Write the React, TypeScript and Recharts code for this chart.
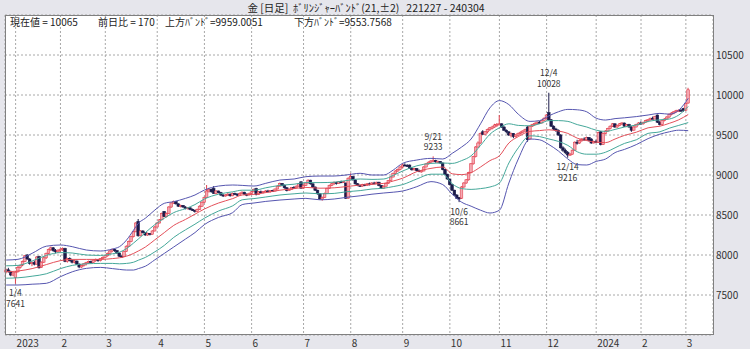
import React from "react";
import { ComposedChart, Bar, Line, XAxis, YAxis, CartesianGrid } from "recharts";

const FONT = '"Noto Sans CJK JP", "Noto Sans", sans-serif';

// Daily OHLC, 2022-12-27 .. 2024-03-04 (index = trading day)
const opens = [
7790,7815,7795,7750,7720,7790,7845,7875,7920,8000,7950,7895,7905,7885,7980,7845,7910,7965,8020,8070,
8090,8055,8040,8060,8070,8080,7920,7955,7930,7910,7925,7885,7850,7870,7890,7905,7920,7905,7935,7945,
7930,7955,7970,7990,8020,8050,8070,8055,8025,7985,7980,8045,8110,8170,8230,8290,8420,8240,8300,8280,
8250,8270,8260,8300,8350,8400,8440,8545,8480,8520,8600,8650,8670,8640,8610,8620,8600,8580,8590,8570,
8560,8545,8570,8610,8660,8720,8800,8820,8830,8770,8800,8780,8750,8740,8750,8760,8740,8770,8760,8750,
8770,8785,8760,8750,8770,8790,8830,8755,8790,8785,8795,8800,8795,8805,8800,8825,8860,8895,8870,8840,
8805,8820,8845,8840,8860,8915,8835,8870,8900,8935,8890,8850,8810,8765,8700,8720,8770,8830,8870,8890,
8905,8895,8915,8910,8900,8710,8960,8980,8940,8890,8870,8860,8880,8870,8890,8880,8900,8895,8910,8870,
8835,8860,8895,8930,8975,9020,9050,9070,9100,9125,9120,9125,9085,9065,9080,9055,9045,9050,9100,9140,
9160,9175,9180,9165,9170,9150,9070,9010,8950,8880,8810,8750,8720,8710,8850,8900,8940,9030,9140,9230,
9350,9400,9540,9510,9540,9570,9580,9600,9625,9630,9640,9600,9560,9540,9500,9520,9480,9500,9520,9535,
9550,9600,9450,9610,9630,9645,9660,9650,9680,9710,9780,9690,9610,9575,9560,9500,9340,9310,9280,9250,
9260,9310,9410,9400,9430,9450,9440,9470,9450,9400,9420,9410,9540,9380,9520,9550,9580,9610,9640,9600,
9620,9640,9650,9610,9630,9600,9560,9600,9630,9650,9640,9660,9680,9690,9710,9700,9750,9660,9630,9680,
9700,9725,9760,9775,9790,9805,9810,9830,9810,9900,
];
const highs = [
7830,7840,7805,7790,7800,7860,7880,7930,8000,8010,7960,7920,7930,7985,7990,7920,7975,8030,8080,8105,
8100,8075,8070,8085,8095,8090,7965,7970,7945,7940,7930,7895,7880,7900,7915,7930,7930,7945,7955,7950,
7960,7980,8000,8030,8060,8080,8075,8060,8030,7995,8050,8120,8180,8240,8300,8410,8450,8310,8310,8285,
8280,8275,8310,8360,8410,8450,8530,8550,8530,8610,8660,8680,8675,8645,8630,8625,8610,8600,8595,8580,
8565,8580,8620,8670,8730,8875,8840,8830,8862,8810,8805,8790,8760,8760,8775,8770,8780,8780,8770,8780,
8795,8790,8770,8780,8800,8830,8840,8800,8805,8800,8810,8815,8810,8815,8830,8870,8905,8900,8880,8850,
8830,8850,8860,8870,8895,8920,8880,8905,8945,8940,8895,8855,8815,8770,8730,8780,8840,8880,8900,8920,
8915,8925,8930,8925,8905,8970,9021,8990,8945,8900,8880,8890,8890,8900,8905,8910,8915,8915,8915,8875,
8870,8900,8935,8980,9030,9060,9080,9110,9140,9146,9135,9130,9095,9090,9085,9070,9060,9110,9150,9170,
9185,9233,9190,9180,9175,9155,9075,9015,8955,8890,8815,8760,8725,8860,8910,8950,9040,9150,9240,9360,
9420,9530,9560,9550,9580,9600,9615,9640,9650,9750,9645,9610,9570,9545,9530,9525,9510,9530,9545,9560,
9580,9610,9620,9640,9655,9670,9675,9690,9720,9760,10028,9700,9620,9590,9570,9510,9360,9330,9300,9275,
9320,9420,9440,9445,9460,9470,9480,9475,9460,9430,9440,9540,9550,9530,9560,9590,9620,9650,9645,9630,
9650,9660,9655,9640,9640,9610,9610,9640,9660,9670,9665,9690,9700,9715,9730,9740,9755,9680,9690,9710,
9735,9770,9785,9800,9815,9820,9825,9840,9900,10090,
];
const lows = [
7770,7780,7735,7735,7641,7780,7830,7860,7910,7940,7880,7860,7870,7880,7830,7840,7900,7950,8010,8050,
8040,8020,8025,8040,8050,7910,7905,7920,7895,7895,7875,7835,7840,7855,7870,7890,7895,7900,7915,7915,
7920,7945,7960,7980,8010,8035,8040,8015,7975,7965,7975,8040,8100,8160,8220,8285,8230,8235,8270,8240,
8240,8245,8255,8295,8345,8395,8435,8475,8470,8515,8590,8640,8630,8600,8595,8590,8570,8570,8560,8550,
8530,8540,8565,8600,8650,8715,8780,8780,8765,8760,8770,8740,8725,8730,8740,8730,8735,8750,8735,8745,
8760,8750,8735,8745,8760,8785,8745,8750,8775,8770,8785,8790,8780,8790,8795,8820,8855,8860,8830,8795,
8800,8815,8830,8835,8855,8830,8830,8865,8895,8880,8840,8800,8755,8690,8679,8715,8765,8825,8860,8875,
8880,8890,8900,8900,8700,8705,8955,8930,8880,8860,8850,8855,8860,8865,8870,8875,8885,8890,8860,8825,
8830,8855,8890,8925,8970,9010,9040,9060,9090,9110,9100,9080,9055,9055,9045,9035,9030,9045,9095,9130,
9150,9160,9155,9150,9140,9060,9000,8940,8870,8800,8740,8700,8661,8700,8840,8890,8930,9020,9130,9220,
9340,9390,9500,9495,9520,9550,9570,9590,9600,9620,9590,9550,9520,9490,9470,9460,9470,9490,9505,9520,
9540,9416,9440,9600,9615,9630,9640,9645,9670,9700,9680,9600,9560,9540,9490,9330,9290,9260,9216,9240,
9255,9305,9380,9390,9415,9430,9430,9420,9390,9395,9400,9405,9370,9375,9510,9540,9570,9600,9590,9590,
9610,9625,9600,9600,9590,9540,9555,9595,9620,9630,9630,9650,9660,9680,9695,9695,9650,9620,9625,9670,
9690,9715,9745,9760,9780,9790,9790,9790,9800,9890,
];
const closes = [
7815,7795,7750,7775,7785,7845,7870,7920,7990,7950,7895,7905,7885,7975,7840,7910,7965,8020,8070,8090,
8055,8040,8060,8070,8080,7920,7955,7930,7910,7925,7885,7850,7870,7890,7905,7920,7905,7935,7945,7930,
7955,7970,7990,8020,8050,8070,8055,8025,7985,7980,8045,8110,8170,8230,8290,8400,8240,8300,8280,8250,
8270,8260,8300,8350,8400,8440,8520,8480,8520,8600,8650,8670,8640,8610,8620,8600,8580,8590,8570,8560,
8545,8570,8610,8660,8720,8800,8820,8790,8770,8800,8780,8750,8740,8750,8760,8740,8770,8760,8750,8770,
8785,8760,8750,8770,8790,8820,8755,8790,8785,8795,8800,8795,8805,8800,8825,8860,8895,8870,8840,8805,
8820,8845,8840,8860,8890,8835,8870,8900,8935,8890,8850,8810,8765,8700,8720,8770,8830,8870,8890,8905,
8895,8915,8910,8920,8710,8960,8980,8940,8890,8870,8860,8880,8870,8890,8880,8900,8895,8910,8870,8835,
8860,8895,8930,8975,9020,9050,9070,9100,9125,9120,9110,9085,9065,9080,9055,9045,9050,9100,9140,9160,
9175,9180,9165,9170,9150,9070,9010,8950,8880,8810,8750,8710,8700,8850,8900,8940,9030,9140,9230,9350,
9400,9520,9510,9540,9570,9590,9600,9625,9630,9640,9600,9560,9540,9500,9520,9480,9500,9520,9535,9550,
9570,9440,9610,9630,9645,9660,9650,9680,9710,9750,9690,9610,9575,9560,9500,9340,9310,9280,9250,9260,
9310,9410,9400,9430,9450,9440,9470,9430,9400,9420,9410,9530,9380,9520,9550,9580,9610,9640,9600,9620,
9640,9650,9610,9630,9600,9560,9600,9630,9650,9640,9660,9680,9690,9710,9700,9730,9660,9630,9680,9700,
9725,9760,9775,9790,9805,9810,9800,9810,9895,10065,
];

// Bollinger band readings (trading-day index of each reading)
const bandIdx = [0,5,11,17,23,28,34,40,45,48,51,54,56,59,63,67,71,76,80,84,90,96,100,105,110,116,122,127,133,139,144,150,155,160,164,168,174,180,185,189,193,197,201,205,209,213,217,222,226,230,234,238,242,246,250,254,258,262,267,272,277,281,285,289];
const upper2 = [7937,7946,8021,8110,8125,8104,8062,8050,8075,8104,8187,8312,8396,8460,8562,8646,8667,8708,8750,8812,8862,8875,8870,8862,8896,8937,8950,8979,8987,8987,9000,9021,9000,9000,9062,9146,9187,9208,9200,9271,9350,9450,9640,9840,9930,9880,9760,9670,9680,9740,9790,9820,9815,9790,9710,9687,9705,9715,9730,9750,9770,9760,9810,9959];
const upper1 = [7865,7870,7925,7995,8030,8025,8000,7995,8015,8035,8080,8150,8200,8280,8380,8460,8530,8580,8630,8700,8760,8790,8810,8810,8840,8870,8885,8905,8905,8910,8930,8950,8945,8950,8995,9050,9115,9145,9150,9145,9180,9240,9370,9510,9590,9640,9620,9615,9640,9680,9680,9670,9630,9600,9560,9545,9570,9600,9625,9670,9690,9700,9750,9857];
const middle = [7790,7800,7830,7880,7930,7945,7945,7945,7955,7965,7985,8020,8050,8100,8190,8280,8370,8445,8510,8575,8650,8705,8750,8758,8780,8810,8830,8845,8835,8840,8855,8875,8885,8895,8925,8960,9042,9083,9100,9015,9005,9030,9100,9180,9240,9400,9480,9545,9555,9565,9550,9520,9460,9430,9410,9405,9450,9495,9535,9590,9610,9646,9690,9756];
const lower1 = [7710,7715,7735,7765,7830,7870,7890,7895,7895,7890,7895,7910,7935,7970,8040,8120,8220,8315,8385,8460,8550,8615,8690,8705,8725,8750,8765,8775,8765,8770,8790,8805,8825,8835,8855,8880,8950,9010,9010,8890,8830,8820,8830,8850,8900,9150,9340,9490,9480,9450,9420,9370,9290,9260,9260,9285,9340,9395,9440,9520,9540,9585,9620,9655];
const lower2 = [7625,7625,7635,7646,7729,7790,7833,7845,7830,7820,7812,7812,7830,7860,7940,8020,8100,8200,8280,8380,8470,8530,8630,8650,8670,8687,8700,8708,8690,8700,8720,8740,8760,8775,8785,8800,8854,8917,8880,8760,8660,8610,8560,8525,8560,8900,9200,9450,9440,9380,9300,9200,9130,9125,9170,9200,9280,9320,9380,9455,9510,9540,9560,9554];

// Month ticks (trading-day index of first day of month) and their labels
const monthTickIdx = [4,23,42,64,84,104,126,146,168,188,209,229,250,269,288];
const monthLabels = ["2023","2","3","4","5","6","7","8","9","10","11","12","2024","2","3"];
const priceTicks = [7500,8000,8500,9000,9500,10000,10500];

// Highlighted highs / lows
const annIdx = [4,181,192,230,238];
const annDate = ["1/4","9/21","10/6","12/4","12/14"];
const annPrice = ["7641","9233","8661","10028","9216"];
const annAbove = [false,true,false,true,false];

const SLOTS = 300;
const rows: any[] = Array.from({ length: SLOTS }, (_, i) => {
  const r: any = { i };
  if (i < closes.length) {
    r.o = opens[i]; r.h = highs[i]; r.l = lows[i]; r.c = closes[i];
    r.range = [lows[i], highs[i]];
  }
  return r;
});
bandIdx.forEach((d, k) => {
  rows[d].u2 = upper2[k]; rows[d].u1 = upper1[k]; rows[d].m = middle[k];
  rows[d].l1 = lower1[k]; rows[d].l2 = lower2[k];
});
annIdx.forEach((d, k) => {
  rows[d].ann = { date: annDate[k], price: annPrice[k], above: annAbove[k] };
});

const UP_LINE = "#E2404E";
const UP_FILL = "#F5A8B2";
const DOWN = "#1B1B4A";

function Candle(props: any) {
  const { x, y, width, height, payload } = props;
  if (!payload || payload.h == null) return null;
  const { o, h, l, c, ann } = payload;
  const top = Math.min(y, y + height);
  const bottom = Math.max(y, y + height);
  const span = h - l || 1;
  const py = (v: number) => top + ((h - v) / span) * (bottom - top);
  const cx = x + width / 2;
  const up = c >= o;
  const col = up ? UP_LINE : DOWN;
  const bTop = py(Math.max(o, c));
  const bBot = py(Math.min(o, c));
  const bh = Math.max(bBot - bTop, 1);
  return (
    <g>
      <line x1={cx} x2={cx} y1={top} y2={bottom} stroke={col} strokeWidth={1} />
      <rect x={cx - 1.3} y={bTop} width={2.6} height={bh} fill={up ? UP_FILL : DOWN} stroke={col} strokeWidth={0.6} />
      {ann && (
        <g fontFamily={FONT} fontSize={8.5} fill="#333" textAnchor="middle">
          <text x={cx} y={ann.above ? top - 16.5 : bottom + 12.5}>{ann.date}</text>
          <text x={cx} y={ann.above ? top - 6 : bottom + 23}>{ann.price}</text>
        </g>
      )}
    </g>
  );
}

function XTick(props: any) {
  const { x, y, payload } = props;
  const k = monthTickIdx.indexOf(payload.value);
  return (
    <text x={x + 1} y={y + 10} fontSize={10} fontFamily={FONT} fill="#333" textAnchor="start">
      {k >= 0 ? monthLabels[k] : ""}
    </text>
  );
}

const abs = (left: number, top: number, extra: any = {}) => ({
  position: "absolute" as const, left, top, fontSize: 10, lineHeight: "12px",
  fontFamily: FONT, color: "#222", whiteSpace: "pre" as const, ...extra,
});

export default function App() {
  return (
    <div style={{ position: "relative", width: 750, height: 349, background: "#E6E6EC", overflow: "hidden" }}>
      <style>{"body{margin:0}"}</style>
      <ComposedChart width={750} height={349} data={rows} margin={{ top: 15, right: 0, bottom: 0, left: 5 }}>
        <CartesianGrid stroke="#A8A8A8" strokeDasharray="2 2" fill="#FFFFFF" />
        <XAxis dataKey="i" type="category" ticks={monthTickIdx} interval={0} tickLine={false} axisLine={false}
          height={14} tickSize={0} tick={<XTick />} />
        <YAxis orientation="right" width={37} domain={[7000, 11000]} ticks={priceTicks} tickLine={false}
          axisLine={false} tickSize={0} tickMargin={3} interval={0}
          tick={{ fontSize: 10, fill: "#333", fontFamily: FONT }} />
        <Line dataKey="u2" type="monotone" stroke="#5656B0" strokeWidth={1} dot={false} connectNulls isAnimationActive={false} />
        <Line dataKey="l2" type="monotone" stroke="#5656B0" strokeWidth={1} dot={false} connectNulls isAnimationActive={false} />
        <Line dataKey="u1" type="monotone" stroke="#45A89A" strokeWidth={1} dot={false} connectNulls isAnimationActive={false} />
        <Line dataKey="l1" type="monotone" stroke="#45A89A" strokeWidth={1} dot={false} connectNulls isAnimationActive={false} />
        <Line dataKey="m" type="monotone" stroke="#E4505A" strokeWidth={1} dot={false} connectNulls isAnimationActive={false} />
        <Bar dataKey="range" barSize={2} shape={<Candle />} isAnimationActive={false} />
      </ComposedChart>
      <div style={{ position: "absolute", left: 5, top: 15, width: 709, height: 320, border: "1px solid #808080", boxSizing: "border-box", pointerEvents: "none" }} />
      <div style={abs(0, 2, { width: 732, textAlign: "center", fontSize: 10.5 })}>{"金 [日足]  ﾎﾞﾘﾝｼﾞｬｰﾊﾞﾝﾄﾞ(21,±2)   221227 - 240304"}</div>
      <div style={abs(10, 16)}>現在値 = 10065</div>
      <div style={abs(98, 16)}>前日比 = 170</div>
      <div style={abs(165, 16)}>上方ﾊﾞﾝﾄﾞ=9959.0051</div>
      <div style={abs(294, 16)}>下方ﾊﾞﾝﾄﾞ=9553.7568</div>
    </div>
  );
}
